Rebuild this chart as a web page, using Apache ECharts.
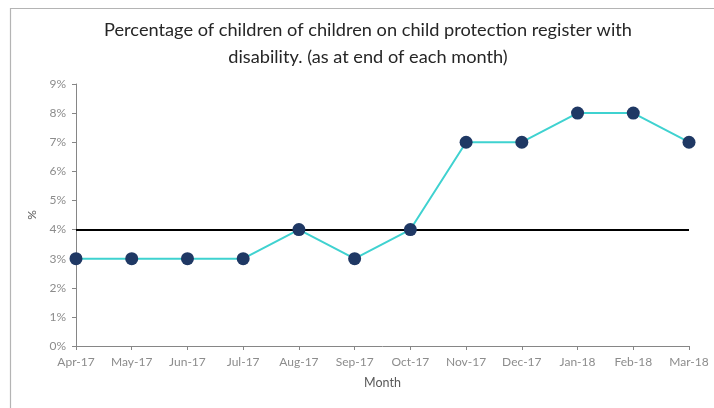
<!DOCTYPE html>
<html>
<head>
<meta charset="utf-8">
<script src="https://cdn.jsdelivr.net/npm/echarts@6/dist/echarts.min.js"></script>
<style>html,body{margin:0;padding:0;background:#fff}#c{width:714px;height:408px}</style>
</head>
<body>
<div id="c"></div>
<script>
const months = ['Apr-17','May-17','Jun-17','Jul-17','Aug-17','Sep-17','Oct-17','Nov-17','Dec-17','Jan-18','Feb-18','Mar-18'];
const disabilityPct = [3,3,3,3,4,3,4,7,7,8,8,7];
const thresholdPct = 4;
const titleText = 'Percentage of children of children on child protection register with\ndisability. (as at end of each month)';

const chart = echarts.init(document.getElementById('c'));
const font = 'Lato, sans-serif';
chart.setOption({
  animation: false,
  graphic: [{
    type: 'rect', left: 8, top: 6, shape: {width: 720, height: 430},
    style: {fill: 'none', stroke: '#b4b4b4', lineWidth: 1.2}, silent: true
  }],
  title: {
    text: titleText, left: 368, textAlign: 'center', top: 17, padding: 0,
    textStyle: {fontFamily: font, fontSize: 18.2, fontWeight: 'normal', color: '#262626', lineHeight: 27}
  },
  grid: {left: 76, right: 25, top: 84, bottom: 62},
  xAxis: {
    type: 'category', data: months, boundaryGap: false,
    name: 'Month', nameLocation: 'middle', nameGap: 30,
    nameTextStyle: {fontFamily: font, fontSize: 12.5, color: '#595959'},
    axisLine: {lineStyle: {color: '#868686', width: 1}},
    axisTick: {show: true, alignWithLabel: true, length: 4, lineStyle: {color: '#868686'}},
    axisLabel: {fontFamily: font, fontSize: 12, color: '#8c8c8c', margin: 10}
  },
  yAxis: {
    type: 'value', min: 0, max: 9, interval: 1,
    name: '%', nameLocation: 'middle', nameGap: 34, nameRotate: 90,
    nameTextStyle: {fontFamily: font, fontSize: 12, color: '#595959'},
    axisLine: {show: true, lineStyle: {color: '#868686', width: 1}},
    axisTick: {show: true, length: 4, lineStyle: {color: '#868686'}},
    splitLine: {show: false},
    axisLabel: {formatter: '{value}%', fontFamily: font, fontSize: 12, color: '#8c8c8c', margin: 10}
  },
  series: [{
    type: 'line', data: disabilityPct,
    symbol: 'circle', symbolSize: 13,
    lineStyle: {color: '#3fd2d0', width: 2},
    itemStyle: {color: '#1f3864'},
    z: 3,
    markLine: {
      silent: true, symbol: 'none', label: {show: false},
      lineStyle: {color: '#000', width: 2, type: 'solid'},
      data: [{yAxis: thresholdPct}],
      z: 2
    }
  }]
});
</script>
</body>
</html>
